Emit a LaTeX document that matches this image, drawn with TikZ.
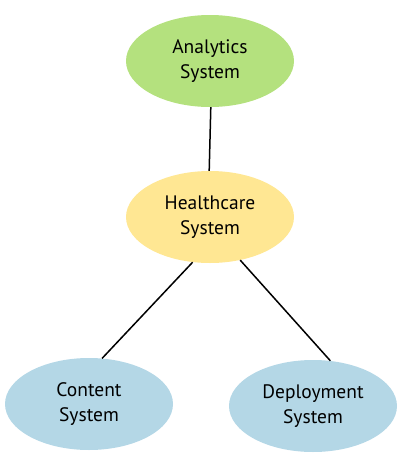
\documentclass[tikz,border=0pt]{standalone}
\usepackage{fontspec}
\setmainfont{PT Sans}
\usetikzlibrary{shapes.geometric}
\definecolor{ngreen}{HTML}{B4E17E}
\definecolor{nyellow}{HTML}{FFE793}
\definecolor{nblue}{HTML}{B4D7E6}
\begin{document}
\begin{tikzpicture}[x=1pt,y=-1pt,
  sysnode/.style={ellipse, inner sep=0pt, minimum width=168pt, minimum height=92pt,
    align=center, font=\fontsize{19.5}{24.5}\selectfont},
  link/.style={line width=1.5pt, black}]
\useasboundingbox (0,0) rectangle (400,472);
\node[sysnode, fill=ngreen] (ana) at (210,61) {Analytics\\System};
\node[sysnode, fill=nyellow] (hc) at (210,217) {Healthcare\\System};
\node[sysnode, fill=nblue] (con) at (89,404) {Content\\System};
\node[sysnode, fill=nblue] (dep) at (313,406) {Deployment\\System};
\draw[link] (ana.-89) -- (hc.91);
\draw[link] (hc.-111) -- (con.74);
\draw[link] (hc.-55) -- (dep.69);
\end{tikzpicture}
\end{document}
